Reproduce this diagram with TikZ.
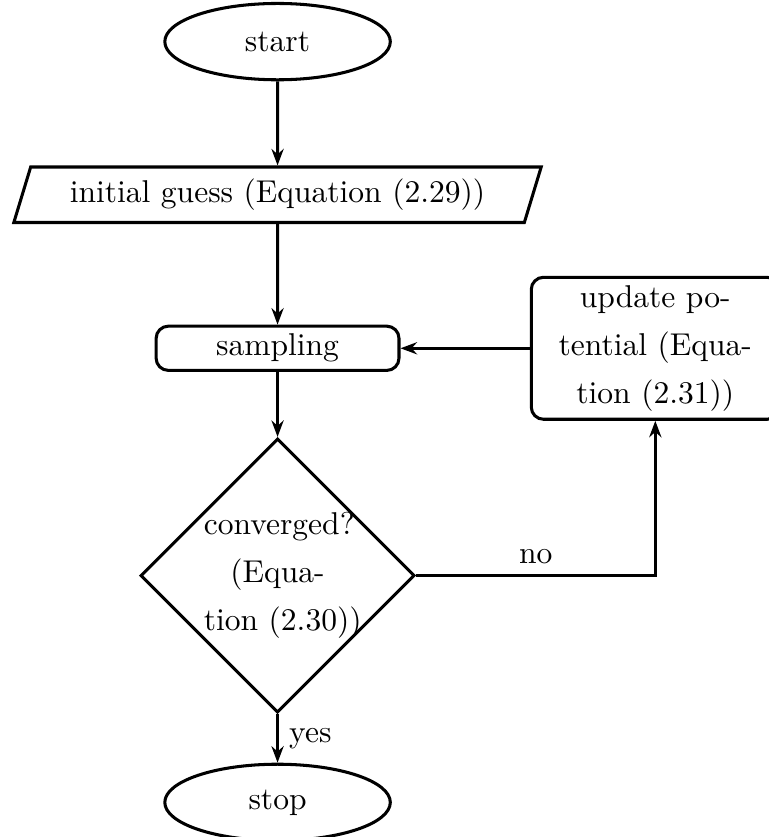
\documentclass[tikz,border=0pt]{standalone}
\usetikzlibrary{positioning,shapes.geometric,arrows.meta}
\begin{document}
\begin{tikzpicture}[
font=\fontsize{10.35pt}{15.8pt}\selectfont,
termnode/.style={ellipse, draw, line width=1pt, minimum width=2.6cm, minimum height=0.88cm},
ionode/.style={trapezium, trapezium left angle=72, trapezium right angle=108, trapezium stretches body, draw, line width=1pt, minimum width=6.08cm, minimum height=0.64cm},
procnode/.style={rectangle, rounded corners, draw, line width=1pt, minimum width=2.8cm, minimum height=0.5cm, inner ysep=2.6pt},
decnode/.style={diamond, aspect=1, draw, line width=1pt, minimum size=3.16cm, text width=1.7cm, align=center, inner sep=0pt},
flow/.style={line width=1pt, -{Stealth[length=1.9mm, width=1.4mm]}}
]
\useasboundingbox (-3.20,0.48) rectangle (5.66,-9.17);

%Nodes
\node[termnode] (start) {start};
\node[ionode] (guess) [below=0.97cm of start] {initial guess (Equation~(2.29))};
\node[procnode] (samp) [below=1.16cm of guess] {sampling};
\node[decnode] (conv) [below=0.75cm of samp] {converged? (Equation~(2.30))};
\node[termnode] (stop) [below=0.56cm of conv] {stop};
\node[procnode, text width=2.4cm, align=center, minimum width=2.86cm, minimum height=1.63cm] (upd) [right=1.49cm of samp] {update potential (Equation~(2.31))};

%Lines
\draw[flow] (start) -- (guess);
\draw[flow] (guess) -- (samp);
\draw[flow] (samp) -- (conv);
\draw[flow] (conv) -- node[right] {yes} (stop);
\draw[flow] (conv.east) -- node[above] {no} (conv.east -| upd.south) -- (upd.south);
\draw[flow] (upd) -- (samp);
\end{tikzpicture}
\end{document}
